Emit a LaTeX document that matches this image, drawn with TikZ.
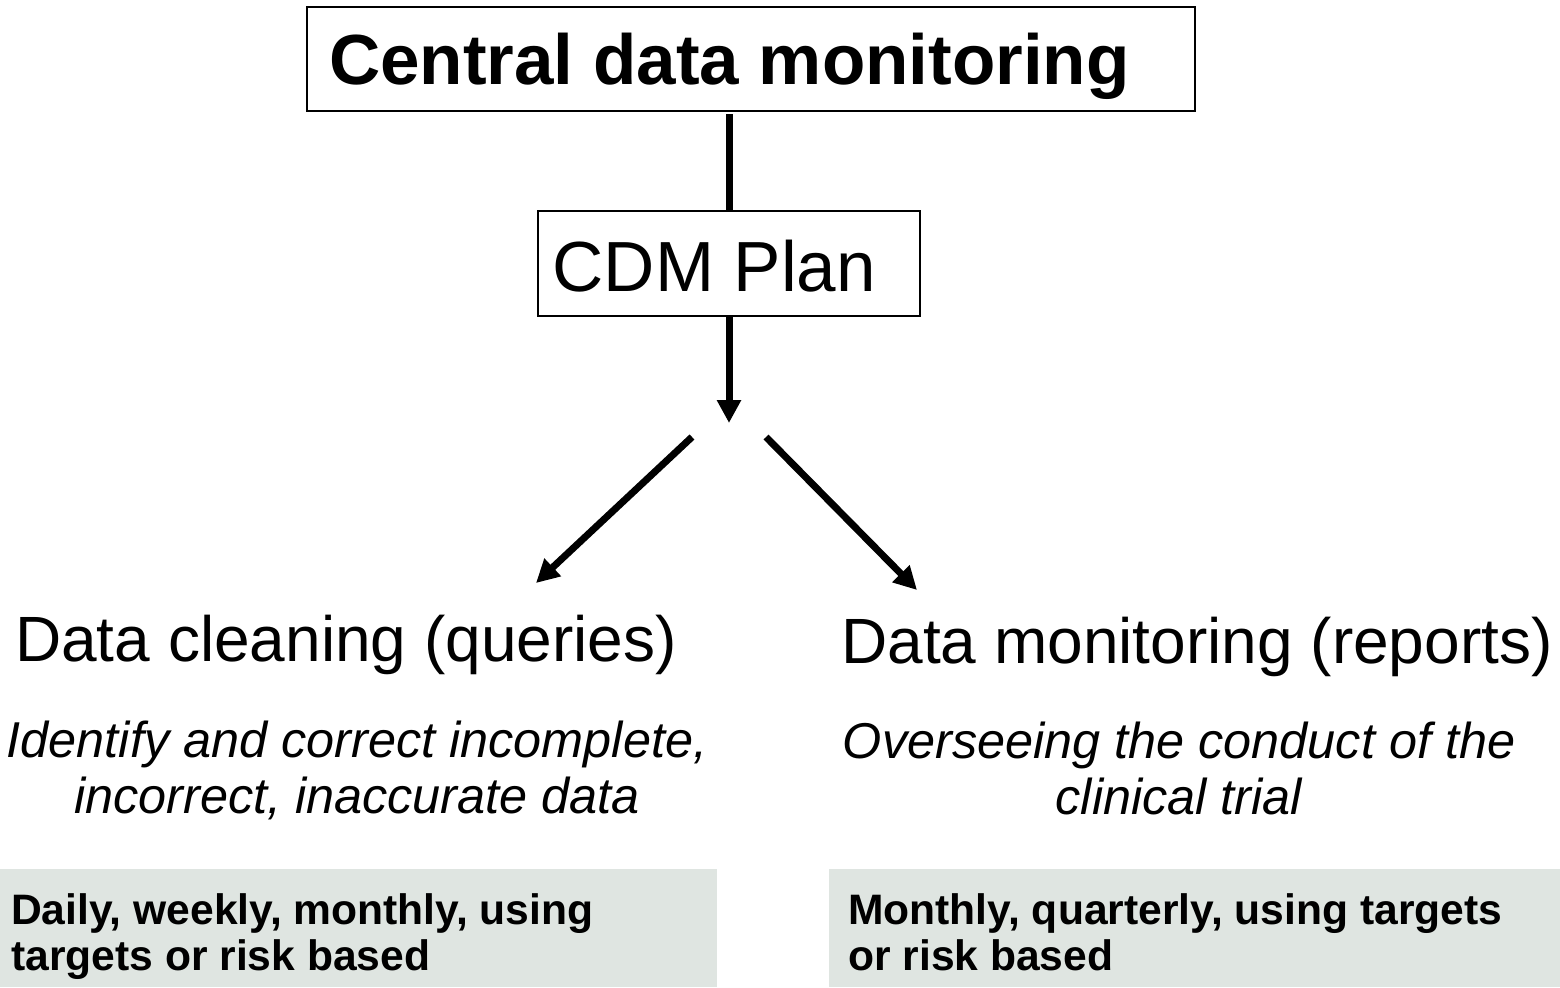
\documentclass[tikz,border=0pt]{standalone}
\usepackage{fontspec}
\setmainfont{Liberation Sans}
\usetikzlibrary{arrows.meta}
\definecolor{boxgray}{RGB}{223,229,225}
\begin{document}
\begin{tikzpicture}[x=1bp,y=-1bp,
  frame/.style={draw=black, line width=2bp, inner ysep=0pt, text depth=0pt},
  conn/.style={line width=7bp, draw=black},
  arr/.style={conn, -{Triangle[width=23bp,length=23bp]}},
  headtxt/.style={font=\fontsize{64bp}{76bp}\selectfont, anchor=base, inner sep=0pt},
  desctxt/.style={font=\itshape\fontsize{50.4bp}{56bp}\selectfont, align=center, anchor=base, inner sep=0pt},
  graybox/.style={fill=boxgray, minimum height=118bp, anchor=north west, inner sep=0pt},
  boxtxt/.style={font=\bfseries\fontsize{42.6bp}{46bp}\selectfont, align=left, anchor=base west, inner sep=0pt}
]
\useasboundingbox (0,0) rectangle (1560,987);
\fill[white] (0,0) rectangle (1560,987);

% boxes
\node (cdmtop) [frame, anchor=north west, inner xsep=22bp,
  minimum height=104bp, text height=50bp,
  font=\bfseries\fontsize{71bp}{85bp}\selectfont] at (306,6) {\hbox to 844bp{Central data monitoring\hfil}};
\node (cdmplan) [frame, anchor=north west, inner xsep=14.5bp,
  minimum height=105bp, text height=55bp,
  font=\fontsize{71bp}{85bp}\selectfont] at (537,210) {\hbox to 353bp{CDM Plan\hfil}};

% headings
\node (clean) [headtxt] at (346,661) {Data cleaning (queries)};
\node (monit) [headtxt] at (1197,663) {Data monitoring (reports)};

% descriptions (anchor = baseline of last line)
\node (cleandesc) [desctxt] at (357,813) {Identify and correct incomplete,\\incorrect, inaccurate data};
\node (monitdesc) [desctxt] at (1179,814) {Overseeing the conduct of the\\clinical trial};

% gray boxes
\node (gbl) [graybox, minimum width=717bp] at (0,869) {};
\node (gbr) [graybox, minimum width=731bp] at (829,869) {};
\node (gbltxt) [boxtxt] at (11,970) {Daily, weekly, monthly, using\\targets or risk based};
\node (gbrtxt) [boxtxt] at (848,970) {Monthly, quarterly, using targets\\or risk based};

% connectors
\coordinate (split) at (727,423);
\coordinate (lstart) at (692,437);
\coordinate (ltip) at (536,583);
\coordinate (rstart) at (766,437);
\coordinate (rtip) at (917,590);

\draw[conn, shorten <=2bp] (cdmplan.north |- cdmtop.south) -- (cdmplan.north);
\draw[arr] (cdmplan.south) -- (cdmplan.south |- split);
\draw[arr] (lstart) -- (ltip);
\draw[arr] (rstart) -- (rtip);
\end{tikzpicture}
\end{document}
